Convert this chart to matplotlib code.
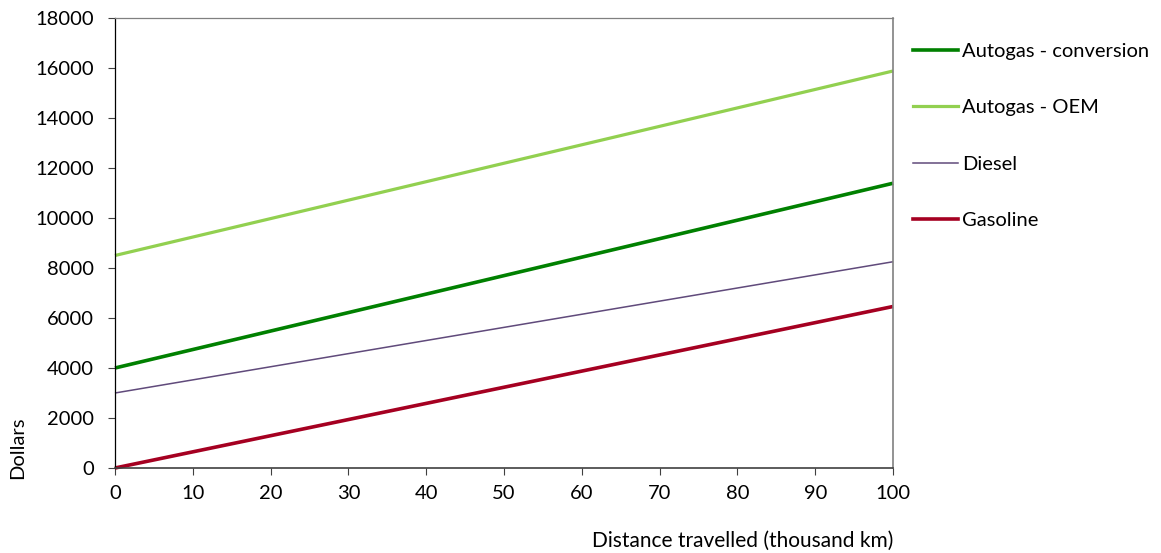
import matplotlib
matplotlib.use("Agg")
import matplotlib.pyplot as plt
from matplotlib.lines import Line2D

plt.rcParams['font.family'] = ['Lato', 'DejaVu Sans']

distance = [0, 100]
autogas_conversion = [4000, 11390]
autogas_oem = [8500, 15880]
diesel = [3000, 8250]
gasoline = [0, 6460]
x_ticks = list(range(0, 101, 10))
y_ticks = list(range(0, 18001, 2000))

FS = 14.5

fig = plt.figure(figsize=(11.61, 5.53), dpi=100)
ax = fig.add_axes([115/1161, (553-468)/553, (893-115)/1161, (468-18)/553])

c_conv = '#008000'
c_oem = '#92D050'
c_dies = '#604A7B'
c_gas = '#A50021'

ax.plot(distance, autogas_oem, color=c_oem, lw=2.3, solid_capstyle='butt', clip_on=False)
ax.plot(distance, autogas_conversion, color=c_conv, lw=2.6, solid_capstyle='butt', clip_on=False)
ax.plot(distance, diesel, color=c_dies, lw=1.1, solid_capstyle='butt', clip_on=False)
ax.plot(distance, gasoline, color=c_gas, lw=2.6, solid_capstyle='butt', clip_on=False)

ax.set_xlim(0, 100)
ax.set_ylim(0, 18000)
ax.set_xticks(x_ticks)
ax.set_yticks(y_ticks)
ax.tick_params(axis='both', direction='out', length=5, width=0.8, labelsize=FS, colors='#000000')
ax.tick_params(axis='x', pad=7, color='#404040')
ax.tick_params(axis='y', pad=10, color='#404040')
ax.spines['left'].set_color('#000000')
ax.spines['bottom'].set_color('#404040')
ax.spines['bottom'].set_linewidth(1.2)
ax.spines['top'].set_color('#808080')
ax.spines['right'].set_color('#808080')
ax.spines['right'].set_linewidth(1.2)
for s in ['left', 'top']:
    ax.spines[s].set_linewidth(0.9)

fig.text(18/1161, (553-448)/553, 'Dollars', rotation=90, ha='center', va='center', fontsize=FS)
fig.text(893/1161, (553-541)/553, 'Distance travelled (thousand km)', ha='right', va='center', fontsize=FS + 0.5)

handles = [Line2D([], [], color=c_conv, lw=2.6),
           Line2D([], [], color=c_oem, lw=2.3),
           Line2D([], [], color=c_dies, lw=1.1),
           Line2D([], [], color=c_gas, lw=2.6)]
labels = ['Autogas - conversion', 'Autogas - OEM', 'Diesel', 'Gasoline']
fig.legend(handles, labels, loc='upper left', bbox_to_anchor=(913/1161, (553-43)/553),
           frameon=False, fontsize=FS, handlelength=2.23, handletextpad=0.2,
           labelspacing=1.95, borderaxespad=0, borderpad=0)

fig.savefig('out.png', dpi=100)
